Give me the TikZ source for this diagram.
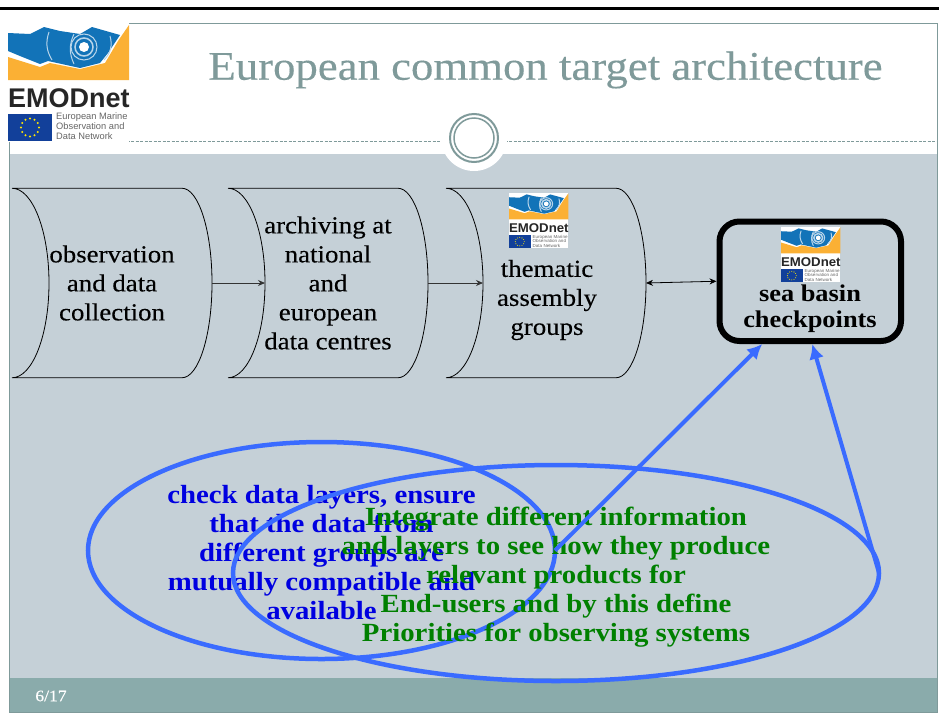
\documentclass[tikz,border=0pt]{standalone}
\usepackage{fontspec}
\setmainfont[FakeStretch=1.1,UprightFeatures={FakeBold=0.25}]{Liberation Serif}
\newfontfamily\logofont{Liberation Sans}
\usetikzlibrary{arrows.meta,shapes.geometric}
\definecolor{panelgrey}{HTML}{C5D0D7}
\definecolor{footteal}{HTML}{8AABAB}
\definecolor{titleteal}{HTML}{7F9A9A}
\definecolor{ovalblue}{HTML}{3A6BFF}
\definecolor{seablue}{HTML}{1273B8}
\definecolor{sandorange}{HTML}{FBB034}
\definecolor{flagblue}{HTML}{12409A}
\tikzset{
  flowbox/.style = {minimum width=200pt, minimum height=189.5pt, inner sep=0pt, outer sep=0pt, align=center, font=\fontsize{24.4}{29}\selectfont},
  flowline/.style = {draw=black, line width=0.8pt},
  flowarrow/.style = {-{Stealth[length=7pt,width=6pt]}, draw=black!80, line width=0.9pt},
  checkbox/.style = {draw=black, line width=6pt, rounded corners=20pt, minimum width=181.5pt, minimum height=119.5pt, inner sep=0pt, outer sep=3pt},
  oval/.style = {ellipse, draw=ovalblue, line width=4.5pt, inner sep=0pt, outer sep=0pt},
  ovaltext/.style = {inner sep=0pt, align=center, font=\fontsize{26.2}{29}\selectfont\bfseries},
  ovalarrow/.style = {-{Latex[length=15pt,width=15pt]}, draw=ovalblue, line width=4pt},
  emodlogo/.pic = {
    \fill[white] (0,0) rectangle (121,118);
    \fill[sandorange] (0,33) -- (32,43) -- (42,39) -- (72,45) -- (97,39) -- (110,17) -- (121,1) -- (121,56) -- (0,56) -- cycle;
    \fill[seablue] (0,9) -- (22,10) -- (36,3) -- (52,7) -- (72,10) -- (84,3) -- (112,11) -- (100,29) -- (92,39) -- (72,44) -- (40,37) -- (32,40) -- (12,32) -- (0,27) -- cycle;
    \draw[white!70!seablue, line width=1pt] (41,8) to[bend right=25] (44,36) (66,10) to[bend right=25] (66,40) (102,12) to[bend left=30] (96,36);
    \draw[white!70!seablue, line width=1pt] (76,23) circle[radius=13];
    \draw[white!70!seablue, line width=1.5pt] (76,23) circle[radius=9];
    \fill[white] (76,23) circle[radius=5];
    \node[anchor=west, inner sep=0pt, font=\logofont\bfseries\fontsize{27}{27}\selectfont, text=black!85] (logoname) at (0,74) {EMODnet};
    \fill[flagblue] (0,90) rectangle (44,117);
    \foreach \a in {0,30,...,330} \fill[yellow!90!orange] (22,103.5) ++(\a:9) circle[radius=1.1];
    \node[anchor=north west, inner sep=0pt, align=left, font=\logofont\fontsize{9.3}{9.8}\selectfont, text=black!60] (logotext) at (48,89) {European Marine\\Observation and\\Data Network};
  },
}
\begin{document}
\begin{tikzpicture}[x=1pt,y=-1pt]
  \useasboundingbox (0,0) rectangle (939,718);
  \fill[white] (0,0) rectangle (939,718);
  \fill[black] (0,7) rectangle (939,10);
  \fill[panelgrey] (9.5,154) rectangle (937.5,678);
  \fill[footteal] (9.5,678) rectangle (937.5,712);
  \draw[titleteal, line width=0.8pt] (129,23.5) -- (937.5,23.5) -- (937.5,712) -- (9.5,712) -- (9.5,141);
  \draw[titleteal, line width=0.7pt, dash pattern=on 3pt off 1.5pt] (9.5,141) -- (937.5,141);
  \fill[white] (474,138) circle[radius=33];
  \draw[titleteal, line width=2pt] (474,138) circle[radius=24];
  \draw[titleteal, line width=1.5pt] (474,138) circle[radius=20];
  \node[text=titleteal, inner sep=0pt, font=\fontsize{40.7}{48}\selectfont] (slidetitle) at (545.5,70) {European common target architecture};
  \node[text=white, inner sep=0pt, font=\fontsize{16}{19}\selectfont] (pageno) at (51,696) {6/17};
  \pic at (8,24) {emodlogo};

  \node[flowbox] (observe) at (112,283) {observation\\and data\\collection};
  \node[flowbox] (archive) at (328,283) {archiving at\\national\\and\\european\\data centres};
  \node[flowbox] (thematic) at (546,283) {};
  \node[font=\fontsize{24.4}{29}\selectfont, align=center, inner sep=0pt] (thematictext) at (547,300) {thematic\\assembly\\groups};
  \foreach \n in {observe,archive,thematic}
    \draw[flowline] (\n.north west) -- ++(170,0) arc[start angle=-90, end angle=90, x radius=30, y radius=94.75] -- (\n.south west)
      (\n.north west) arc[start angle=-90, end angle=90, x radius=37, y radius=94.75];
  \pic[xscale=0.49, yscale=0.47, transform shape] at (509,193) {emodlogo};

  \node[checkbox] (checkpoint) at (810.25,281.25) {};
  \pic[xscale=0.49, yscale=0.47, transform shape] at (781,227) {emodlogo};
  \node[font=\fontsize{24}{26}\selectfont\bfseries, align=center, inner sep=0pt] (checktext) at (810,309) {sea basin\\checkpoints};

  \draw[flowarrow] (observe.east) -- ([xshift=37pt]archive.west);
  \draw[flowarrow] (archive.east) -- ([xshift=37pt]thematic.west);
  \draw[{Stealth[length=7pt,width=6pt]}-{Stealth[length=7pt,width=6pt]}, line width=0.8pt] (thematic.east) -- (checkpoint.west);

  \node[oval, minimum width=467pt, minimum height=217pt] (checkoval) at (321.5,550.5) {};
  \node[ovaltext, text=blue!88!black] (checktextblue) at (321.5,553) {check data layers, ensure\\that the data from\\different groups are\\mutually compatible and\\available};
  \node[oval, minimum width=646pt, minimum height=216pt] (integrateoval) at (556,573) {};
  \node[ovaltext, text=green!50!black] (integratetext) at (556,577) {Integrate different information\\and layers to see how they produce\\relevant products for\\End-users and by this define\\Priorities for observing systems};
  \draw[ovalarrow] (checkoval.east) -- ([xshift=-48pt]checkpoint.south);
  \draw[ovalarrow] (integrateoval.east) -- ([xshift=2pt]checkpoint.south);
\end{tikzpicture}
\end{document}
